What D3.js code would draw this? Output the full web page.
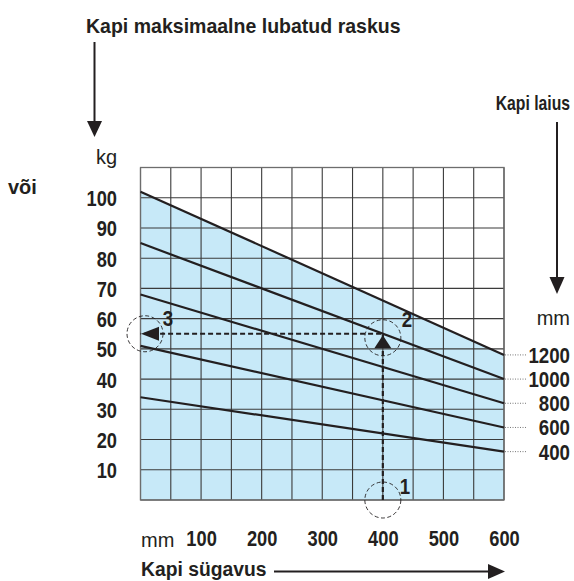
<!DOCTYPE html>
<html>
<head>
<meta charset="utf-8">
<script src="https://cdn.jsdelivr.net/npm/d3@7"></script>
<style>
  body { margin: 0; background: #fff; }
  text { font-family: "Liberation Sans", Arial, sans-serif; fill: #231f20; }
  .bold { font-weight: bold; }
</style>
</head>
<body>
<div id="chart"></div>
<script>
// cabinet depth ticks (mm) and load ticks (kg)
var depthTicks = [100, 200, 300, 400, 500, 600];
var loadTicks = [10, 20, 30, 40, 50, 60, 70, 80, 90, 100];
// one line per cabinet width: allowed load at depth 0 and at depth 600
var widths = [1200, 1000, 800, 600, 400];
var loadAtStart = [102, 85, 68, 51, 34];
var loadAtEnd = [48, 40, 32, 24, 16];
var depthRange = [0, 600];
// worked example: depth 400 mm -> 55 kg
var exampleDepth = 400;
var exampleLoad = 55;

var W = 574, H = 581;
var svg = d3.select("#chart").append("svg")
  .attr("width", W)
  .attr("height", H);

var x = d3.scaleLinear().domain([0, 600]).range([140.5, 504]);
var y = d3.scaleLinear().domain([0, 110]).range([500, 167.5]);

// blue area under the widest cabinet line
svg.append("path")
  .attr("d", d3.area()
    .x(d => x(d[0]))
    .y0(y(0))
    .y1(d => y(d[1]))([[depthRange[0], loadAtStart[0]], [depthRange[1], loadAtEnd[0]]]))
  .attr("fill", "#c7e9f8");

// grid
var grid = svg.append("g");
grid.selectAll("line.v")
  .data(x.ticks(12))
  .enter().append("line")
  .attr("class", "v")
  .attr("x1", d => x(d)).attr("x2", d => x(d))
  .attr("y1", y(0)).attr("y2", y(110))
  .attr("stroke", "#3b3b3b")
  .attr("stroke-width", 1.1);
grid.selectAll("line.h")
  .data(y.ticks(11))
  .enter().append("line")
  .attr("class", "h")
  .attr("y1", d => y(d)).attr("y2", d => y(d))
  .attr("x1", x(0)).attr("x2", x(600))
  .attr("stroke", "#3b3b3b")
  .attr("stroke-width", 1.1);
grid.append("rect")
  .attr("x", x(0)).attr("y", y(110))
  .attr("width", x(600) - x(0)).attr("height", y(0) - y(110))
  .attr("fill", "none")
  .attr("stroke", "#6d6d6d")
  .attr("stroke-width", 1.3);

// text helper, sx squeezes the glyphs to look condensed
function label(tx, ty, str, size, opts) {
  opts = opts || {};
  return svg.append("text")
    .attr("class", opts.bold === false ? null : "bold")
    .attr("transform", "translate(" + tx + "," + ty + ") scale(" + (opts.sx || 1) + ",1)")
    .attr("text-anchor", opts.anchor || "start")
    .attr("font-size", size)
    .text(str);
}

// width lines
var lineGen = d3.line().x(d => x(d[0])).y(d => y(d[1]));
widths.forEach(function(w, i) {
  var pts = [[depthRange[0], loadAtStart[i]], [depthRange[1], loadAtEnd[i]]];
  svg.append("path")
    .attr("d", lineGen(pts))
    .attr("fill", "none")
    .attr("stroke", "#231f20")
    .attr("stroke-width", 2.2);
  // dotted leader to the label
  svg.append("line")
    .attr("x1", x(600) + 1).attr("x2", 527)
    .attr("y1", y(loadAtEnd[i])).attr("y2", y(loadAtEnd[i]))
    .attr("stroke", "#777")
    .attr("stroke-width", 1)
    .attr("stroke-dasharray", "1,1.5");
  label(570, y(loadAtEnd[i]) + 8, w, 22, {anchor: "end", sx: 0.85});
});

// axes (labels only)
var yAxis = svg.append("g")
  .attr("transform", "translate(117,0)")
  .call(d3.axisLeft(y).tickValues(loadTicks).tickSize(0).tickPadding(0));
var xAxis = svg.append("g")
  .attr("transform", "translate(0,530)")
  .call(d3.axisBottom(x).tickValues(depthTicks).tickSize(0).tickPadding(0));
[yAxis, xAxis].forEach(function(a) {
  a.select(".domain").remove();
  a.selectAll("text")
    .attr("class", "bold")
    .attr("font-family", null)
    .attr("font-size", 22)
    .attr("fill", "#231f20")
    .attr("transform", "scale(0.83,1)");
});
yAxis.selectAll("text").attr("dy", "0.36em");
xAxis.selectAll("text").attr("dy", "0.72em");

// example: dashed path, circles, arrows
var ex = x(exampleDepth), ey = y(exampleLoad);
svg.append("path")
  .attr("d", "M" + ex + "," + y(0) + "V" + ey + "H" + x(0))
  .attr("fill", "none")
  .attr("stroke", "#231f20")
  .attr("stroke-width", 2.2)
  .attr("stroke-dasharray", "5,3");
var circles = [[x(0) + 4.5, ey], [ex, ey + 4], [ex, y(0)]];
svg.selectAll("circle.mark")
  .data(circles)
  .enter().append("circle")
  .attr("class", "mark")
  .attr("cx", d => d[0]).attr("cy", d => d[1])
  .attr("r", 18)
  .attr("fill", "none")
  .attr("stroke", "#231f20")
  .attr("stroke-width", 0.9)
  .attr("stroke-dasharray", "4,2.5");
// up arrow at 2
svg.append("path")
  .attr("d", "M" + ex + "," + (ey + 1.5) + "l8.5,13h-17z")
  .attr("fill", "#231f20");
// left arrow at 3
svg.append("path")
  .attr("d", "M" + (x(0) + 0.5) + "," + ey + "l18,-7v14z")
  .attr("fill", "#231f20");
label(405, 494, "1", 22, {anchor: "middle", sx: 0.85});
label(407, 327, "2", 22, {anchor: "middle", sx: 0.85});
label(168, 326, "3", 22, {anchor: "middle", sx: 0.85});

// titles and units
label(86, 33, "Kapi maksimaalne lubatud raskus", 21, {sx: 0.93});
label(570, 110, "Kapi laius", 21, {anchor: "end", sx: 0.75});
label(141, 576, "Kapi sügavus", 21, {sx: 0.92});
label(8, 194, "või", 20);
label(117, 164, "kg", 20, {anchor: "end", bold: false});
label(141, 547, "mm", 20, {bold: false});
label(570, 325, "mm", 20, {anchor: "end", bold: false});

// pointer arrows
function arrow(x1, y1, x2, y2, head) {
  var ang = Math.atan2(y2 - y1, x2 - x1);
  var bx = x2 - head * Math.cos(ang), by = y2 - head * Math.sin(ang);
  svg.append("line")
    .attr("x1", x1).attr("y1", y1).attr("x2", bx).attr("y2", by)
    .attr("stroke", "#231f20").attr("stroke-width", 2);
  var px = Math.sin(ang) * 7.5, py = -Math.cos(ang) * 7.5;
  svg.append("path")
    .attr("d", "M" + x2 + "," + y2 + "L" + (bx + px) + "," + (by + py) + "L" + (bx - px) + "," + (by - py) + "Z")
    .attr("fill", "#231f20");
}
arrow(94.5, 42, 94.5, 137, 16);
arrow(557, 122, 557, 294, 17);
arrow(274, 571.5, 505, 571.5, 17);
</script>
</body>
</html>
